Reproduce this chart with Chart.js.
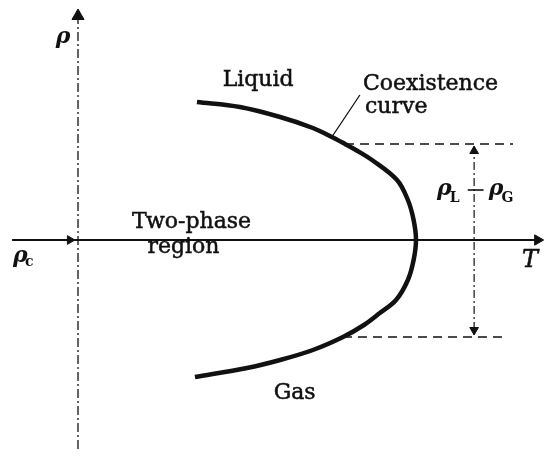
<!DOCTYPE html>
<html>
<head>
<meta charset="utf-8">
<script src="https://cdn.jsdelivr.net/npm/chart.js@4/dist/chart.umd.min.js"></script>
<style>
  body { margin: 0; background: #fff; }
</style>
</head>
<body>
<canvas id="myChart" width="545" height="457"></canvas>
<script>
  // coexistence curve : T (origin = 0, Tc = 1) and rho - rho_c
  const curveT = [0.352, 0.479, 0.598, 0.695, 0.751, 0.790, 0.822, 0.870, 0.944, 0.976, 0.993, 1.0,
                  0.993, 0.976, 0.941, 0.893, 0.846, 0.784, 0.695, 0.598, 0.500, 0.346];
  const curveRho = [1.38, 1.33, 1.23, 1.12, 1.03, 0.96, 0.90, 0.80, 0.60, 0.40, 0.20, 0,
                    -0.20, -0.40, -0.60, -0.73, -0.85, -0.97, -1.10, -1.20, -1.28, -1.37];

  // axes
  const tAxisT = [-0.195, 1.36];
  const rhoAxisRho = [2.25, -2.12];

  // rho_L and rho_G levels (dashed lines) and where the gap is measured
  const rhoL = 0.96;
  const rhoG = -0.97;
  const upperDashT = [0.790, 1.287];
  const lowerDashT = [0.784, 1.263];
  const gapT = 1.172;

  // leader from the label to the curve
  const leaderT = [0.751, 0.834];
  const leaderRho = [1.03, 1.45];

  const labels = ['Liquid', 'Coexistence', 'curve', 'Two-phase', 'region', 'Gas'];

  function pts(xs, ys) {
    return xs.map((x, i) => ({ x: x, y: ys[i] }));
  }

  const black = '#111';

  const data = {
    datasets: [
      { // coexistence curve
        data: pts(curveT, curveRho),
        borderColor: black, borderWidth: 4.5, tension: 0.35, pointRadius: 0, showLine: true
      },
      { // T axis
        data: pts(tAxisT, [0, 0]),
        borderColor: black, borderWidth: 2, pointRadius: 0, showLine: true
      },
      { // rho axis
        data: pts([0, 0], rhoAxisRho),
        borderColor: black, borderWidth: 1.3, borderDash: [9, 3, 2, 3], pointRadius: 0, showLine: true
      },
      { // upper dashed
        data: pts(upperDashT, [rhoL, rhoL]),
        borderColor: black, borderWidth: 1.5, borderDash: [9, 6], pointRadius: 0, showLine: true
      },
      { // lower dashed
        data: pts(lowerDashT, [rhoG, rhoG]),
        borderColor: black, borderWidth: 1.5, borderDash: [9, 6], pointRadius: 0, showLine: true
      },
      { // gap line
        data: pts([gapT, gapT], [rhoL - 0.02, rhoG + 0.02]),
        borderColor: black, borderWidth: 1.2, borderDash: [8, 3, 2, 3], pointRadius: 0, showLine: true
      },
      { // leader
        data: pts(leaderT, leaderRho),
        borderColor: black, borderWidth: 1.3, pointRadius: 0, showLine: true
      },
      { // arrow heads
        data: pts([0, 1.36, -0.024, gapT, gapT], [2.24, 0, 0, rhoL - 0.07, rhoG + 0.07]),
        pointStyle: 'triangle',
        pointRadius: [7, 6, 5, 5, 5],
        pointRotation: [0, 90, 90, 0, 180],
        backgroundColor: black, borderColor: black, borderWidth: 1,
        showLine: false
      }
    ]
  };

  // text labels drawn at data positions
  const textPlugin = {
    id: 'texts',
    afterDatasetsDraw(chart) {
      const ctx = chart.ctx;
      const xs = chart.scales.x, ys = chart.scales.y;
      const X = v => xs.getPixelForValue(v);
      const Y = v => ys.getPixelForValue(v);
      const serif = '"DejaVu Serif", serif';
      ctx.save();
      ctx.fillStyle = black;
      ctx.strokeStyle = black;
      ctx.textBaseline = 'alphabetic';

      function put(str, t, r, font, align, thick) {
        ctx.font = font;
        ctx.textAlign = align || 'left';
        ctx.fillText(str, X(t), Y(r));
        if (thick) {
          ctx.lineWidth = thick;
          ctx.strokeText(str, X(t), Y(r));
        }
      }
      const big = '22px ' + serif;
      put(labels[0], 0.533, 1.54, big, 'center', 0.5);
      put(labels[1], 0.843, 1.50, big, 'left', 0.5);
      put(labels[2], 0.849, 1.27, big, 'left', 0.5);
      put(labels[3], 0.336, 0.12, big, 'center', 0.5);
      put(labels[4], 0.312, -0.13, big, 'center', 0.5);
      put(labels[5], 0.641, -1.59, big, 'center', 0.5);

      // symbols
      const it = 'italic bold 22px ' + serif;
      const sub = 'bold 14px ' + serif;
      put('ρ', -0.044, 1.97, it, 'center');
      put('T', 1.314, -0.27, 'italic 24px ' + serif, 'left', 0.6);
      put('ρ', -0.192, -0.22, it);
      put('c', -0.157, -0.26, sub);

      // rho_L - rho_G
      put('ρ', 1.062, 0.45, it);
      put('L', 1.100, 0.38, sub);
      put('ρ', 1.215, 0.45, it);
      put('G', 1.253, 0.38, sub);
      ctx.lineWidth = 1.6;
      ctx.beginPath();
      ctx.moveTo(X(1.153), Y(0.50));
      ctx.lineTo(X(1.200), Y(0.50));
      ctx.stroke();
      ctx.restore();
    }
  };

  const config = {
    type: 'scatter',
    data: data,
    options: {
      responsive: false,
      animation: false,
      layout: { padding: 0, autoPadding: false },
      plugins: { legend: { display: false }, tooltip: { enabled: false } },
      scales: {
        x: { type: 'linear', min: -0.2308, max: 1.3817, display: false },
        y: { type: 'linear', min: -2.17, max: 2.40, display: false }
      }
    },
    plugins: [textPlugin]
  };

  const myChart = new Chart(document.getElementById('myChart'), config);
</script>
</body>
</html>
